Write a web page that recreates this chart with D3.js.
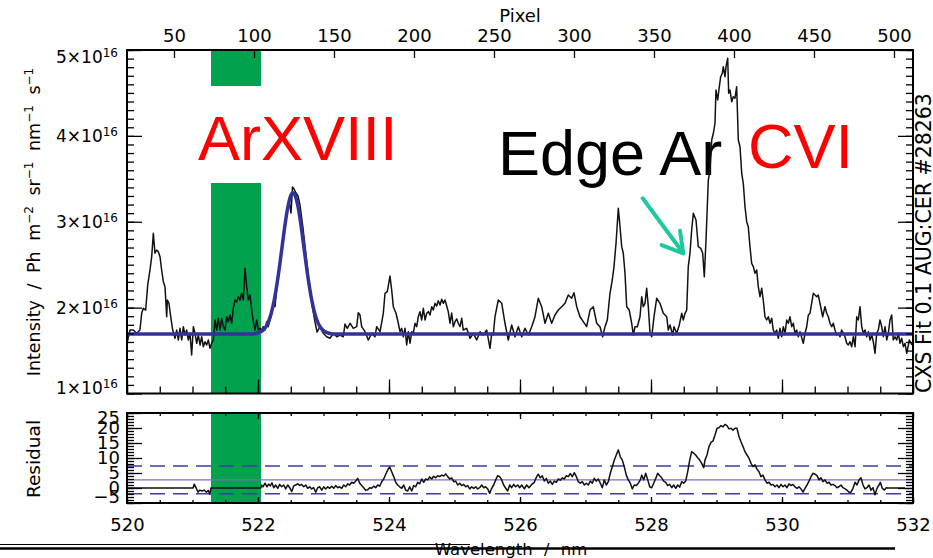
<!DOCTYPE html>
<html>
<head>
<meta charset="utf-8">
<script src="https://cdn.jsdelivr.net/npm/d3@7"></script>
<style>
  body { margin: 0; background: #fff; }
  svg { display: block; }
</style>
</head>
<body>
<svg id="chart" width="933" height="558"></svg>
<script>
// ---- Measured spectrum (wavelength in nm, intensity in units of 1e16 Ph m^-2 sr^-1 nm^-1 s^-1)
const wavelength = [
  520.000,520.046,520.096,520.148,520.198,520.224,520.249,520.285,520.316,520.351,
  520.377,520.402,520.427,520.453,520.478,520.504,520.529,520.555,520.580,520.606,
  520.616,520.641,520.667,520.698,520.733,520.758,520.784,520.809,520.835,520.860,
  520.885,520.911,520.936,520.962,520.987,521.013,521.038,521.064,521.089,521.115,
  521.140,521.165,521.191,521.216,521.242,521.267,521.293,521.318,521.344,521.369,
  521.394,521.420,521.446,521.471,521.496,521.522,521.547,521.573,521.598,521.623,
  521.649,521.675,521.700,521.725,521.751,521.776,521.802,521.827,521.852,521.878,
  521.904,521.929,521.954,521.980,522.005,522.031,522.056,522.081,522.107,522.133,
  522.157,522.183,522.209,522.234,522.260,522.286,522.336,522.386,522.438,522.473,
  522.504,522.527,522.550,522.580,522.611,522.641,522.687,522.733,522.779,522.824,
  522.870,522.901,522.947,522.997,523.049,523.099,523.150,523.202,523.252,523.302,
  523.328,523.363,523.405,523.455,523.507,523.531,523.557,523.583,523.634,523.684,
  523.736,523.786,523.812,523.863,523.913,523.939,523.974,524.015,524.041,524.066,
  524.107,524.142,524.168,524.194,524.218,524.244,524.270,524.295,524.321,524.347,
  524.371,524.397,524.423,524.447,524.473,524.499,524.524,524.550,524.576,524.600,
  524.626,524.652,524.676,524.702,524.728,524.753,524.779,524.805,524.829,524.855,
  524.881,524.905,524.931,524.957,524.982,525.008,525.034,525.058,525.084,525.110,
  525.134,525.186,525.237,525.287,525.339,525.389,525.440,525.492,525.542,525.568,
  525.592,525.618,525.669,525.721,525.771,525.821,525.873,525.924,525.974,526.026,
  526.076,526.127,526.179,526.229,526.279,526.331,526.382,526.432,526.484,526.534,
  526.585,526.637,526.687,526.737,526.789,526.824,526.866,526.916,526.966,527.018,
  527.069,527.119,527.171,527.221,527.262,527.298,527.333,527.374,527.409,527.435,
  527.466,527.501,527.527,527.553,527.577,527.603,527.629,527.668,527.705,527.730,
  527.756,527.791,527.832,527.858,527.882,527.908,527.934,527.959,527.985,528.011,
  528.046,528.087,528.137,528.188,528.240,528.264,528.290,528.331,528.351,528.392,
  528.432,528.469,528.493,528.519,528.545,528.569,528.595,528.621,528.646,528.687,
  528.722,528.759,528.789,528.814,528.840,528.875,528.901,528.927,528.952,528.977,
  528.992,529.018,529.043,529.064,529.089,529.104,529.130,529.145,529.171,529.186,
  529.206,529.232,529.256,529.282,529.308,529.333,529.359,529.385,529.409,529.435,
  529.461,529.485,529.511,529.537,529.562,529.588,529.614,529.638,529.664,529.690,
  529.714,529.740,529.766,529.791,529.817,529.843,529.867,529.893,529.919,529.944,
  529.969,529.995,530.020,530.046,530.072,530.096,530.122,530.148,530.173,530.198,
  530.224,530.249,530.275,530.325,530.351,530.377,530.402,530.427,530.478,530.504,
  530.530,530.554,530.580,530.621,530.656,530.682,530.707,530.733,530.759,530.783,
  530.809,530.835,530.860,530.885,530.911,530.936,530.962,530.988,531.012,531.038,
  531.064,531.089,531.115,531.141,531.165,531.191,531.217,531.241,531.267,531.293,
  531.318,531.344,531.370,531.394,531.420,531.446,531.470,531.496,531.522,531.547,
  531.573,531.599,531.623,531.649,531.675,531.699,531.725,531.751,531.776,531.802,
  531.827,531.853,531.878,531.904,531.944,531.985
];
const intensity = [
  1.585,1.739,1.739,1.701,1.739,1.934,1.992,1.972,2.264,2.438,
  2.593,2.866,2.633,2.671,2.651,2.593,2.438,2.302,2.244,1.894,
  2.089,2.050,1.894,1.739,1.643,1.739,1.623,1.759,1.623,1.778,
  1.681,1.739,1.623,1.701,1.448,1.778,1.701,1.585,1.681,1.565,
  1.661,1.545,1.603,1.565,1.623,1.526,1.585,1.623,1.856,1.739,
  1.876,1.739,1.876,1.778,1.739,1.894,1.836,1.914,1.818,1.992,
  2.089,2.069,2.127,2.089,2.167,2.089,2.458,2.244,2.089,2.147,
  1.972,1.836,1.739,1.856,1.739,1.759,1.739,1.778,1.739,1.836,
  1.778,1.856,1.934,2.050,2.011,2.229,2.531,2.811,3.090,3.253,
  3.102,3.405,3.381,3.335,3.300,3.195,2.927,2.613,2.298,2.031,
  1.833,1.716,1.778,1.701,1.661,1.643,1.701,1.661,1.681,1.661,
  1.809,1.759,1.818,1.759,1.778,1.941,1.914,1.778,1.720,1.623,
  1.701,1.661,1.778,1.720,1.934,2.167,2.185,2.368,2.205,2.011,
  1.934,1.818,1.720,1.759,1.661,1.759,1.565,1.720,1.585,1.720,
  1.701,1.818,1.778,1.894,1.953,1.856,1.992,1.856,1.934,1.953,
  1.914,2.011,1.972,2.050,2.019,2.081,2.031,2.097,2.050,2.089,
  2.019,1.953,1.818,1.937,1.778,1.836,1.868,1.818,1.778,1.876,
  1.739,1.759,1.643,1.701,1.623,1.720,1.681,1.739,1.526,1.701,
  1.681,1.894,2.089,2.050,1.818,1.623,1.798,1.661,1.778,1.661,
  1.759,1.681,1.778,1.894,2.109,2.011,1.818,1.934,1.818,1.914,
  1.972,2.011,2.050,2.147,2.109,2.174,2.011,1.894,1.836,1.778,
  1.972,2.011,1.818,1.778,1.661,1.778,1.856,2.167,2.322,2.477,
  2.749,3.157,2.942,2.710,2.633,2.400,2.011,1.972,1.818,1.681,
  1.778,1.778,1.894,2.127,2.011,2.050,2.225,2.011,1.701,1.661,
  1.894,2.109,2.050,1.934,1.894,1.739,1.798,1.681,1.778,1.701,
  1.798,1.934,1.856,1.934,1.972,2.477,2.633,2.904,3.098,3.020,
  2.710,2.691,2.633,2.360,2.788,3.486,3.603,3.952,4.030,4.147,
  4.534,4.418,4.573,4.689,4.729,4.806,4.689,4.806,4.903,4.496,
  4.534,4.398,4.456,4.438,4.573,3.952,3.874,3.564,3.448,3.175,
  3.001,2.942,2.710,2.516,2.477,2.400,2.438,2.244,2.127,2.225,
  2.089,1.894,1.856,1.894,1.818,1.876,1.739,1.701,1.739,1.643,
  1.759,1.661,1.778,1.701,1.856,1.818,1.894,1.778,1.818,1.701,
  1.739,1.661,1.720,1.585,1.701,1.778,1.914,1.934,2.167,2.147,
  2.127,2.147,2.050,1.894,2.011,1.934,1.894,1.818,1.778,1.818,
  1.739,1.681,1.701,1.661,1.739,1.701,1.661,1.585,1.565,1.603,
  1.545,1.661,1.545,1.894,1.856,2.011,1.778,1.701,1.739,1.661,
  1.720,1.623,1.681,1.603,1.468,1.701,1.739,1.856,1.778,1.661,
  1.778,1.623,1.701,1.856,1.914,1.623,1.661,1.623,1.701,1.585,
  1.643,1.545,1.585,1.468,1.623,1.565
];

// ---- Fitted ArXVIII line profile (same units)
const fitWavelength = [
  520.000,521.900,521.950,522.000,522.050,522.100,522.150,522.200,522.250,522.300,
  522.350,522.400,522.450,522.500,522.534,522.568,522.618,522.668,522.718,522.768,
  522.818,522.868,522.918,522.968,523.018,523.068,523.118,523.168,532.000
];
const fitIntensity = [
  1.693,1.694,1.697,1.705,1.721,1.755,1.819,1.929,2.097,2.327,
  2.605,2.896,3.148,3.305,3.338,3.305,3.148,2.896,2.605,2.327,
  2.097,1.929,1.819,1.755,1.721,1.705,1.697,1.694,1.693
];

// ---- Fit residual
const residualWavelength = [
  520.000,521.008,521.027,521.058,521.084,521.110,521.145,521.180,521.211,521.241,
  521.263,521.282,522.046,522.053,522.076,522.107,522.137,522.163,522.188,522.214,
  522.240,522.270,522.301,522.331,522.362,522.392,522.423,522.453,522.484,522.515,
  522.545,522.576,522.606,522.637,522.667,522.698,522.728,522.759,522.789,522.820,
  522.850,522.881,522.911,522.942,522.973,523.003,523.034,523.064,523.095,523.125,
  523.156,523.186,523.217,523.247,523.278,523.308,523.339,523.369,523.400,523.431,
  523.461,523.492,523.522,523.553,523.583,523.614,523.644,523.675,523.705,523.736,
  523.766,523.797,523.827,523.858,523.889,523.919,523.950,523.980,524.011,524.041,
  524.072,524.102,524.133,524.163,524.194,524.224,524.255,524.285,524.316,524.347,
  524.377,524.408,524.438,524.469,524.499,524.530,524.560,524.591,524.621,524.652,
  524.682,524.713,524.744,524.774,524.805,524.835,524.866,524.896,524.927,524.957,
  524.988,525.018,525.049,525.079,525.110,525.140,525.171,525.202,525.232,525.263,
  525.293,525.324,525.354,525.385,525.415,525.446,525.476,525.507,525.537,525.568,
  525.598,525.629,525.660,525.690,525.721,525.751,525.782,525.812,525.843,525.873,
  525.904,525.934,525.965,525.995,526.026,526.066,526.102,526.137,526.179,526.218,
  526.255,526.279,526.310,526.340,526.371,526.402,526.432,526.463,526.493,526.524,
  526.554,526.585,526.615,526.646,526.676,526.707,526.737,526.768,526.798,526.829,
  526.860,526.890,526.921,526.951,526.982,527.012,527.043,527.073,527.104,527.134,
  527.165,527.195,527.226,527.256,527.287,527.318,527.348,527.379,527.409,527.440,
  527.470,527.501,527.531,527.562,527.592,527.623,527.653,527.684,527.715,527.745,
  527.776,527.806,527.837,527.858,527.889,527.919,527.950,527.980,528.011,528.041,
  528.072,528.102,528.133,528.163,528.194,528.224,528.255,528.285,528.316,528.347,
  528.377,528.408,528.438,528.469,528.499,528.530,528.560,528.591,528.621,528.652,
  528.682,528.713,528.744,528.774,528.805,528.824,528.855,528.885,528.916,528.947,
  528.977,529.008,529.038,529.069,529.099,529.130,529.160,529.191,529.221,529.252,
  529.282,529.313,529.344,529.374,529.405,529.435,529.466,529.496,529.527,529.557,
  529.588,529.618,529.649,529.679,529.710,529.740,529.771,529.802,529.832,529.863,
  529.893,529.924,529.954,529.985,530.015,530.046,530.076,530.107,530.137,530.168,
  530.198,530.229,530.260,530.290,530.321,530.351,530.382,530.412,530.443,530.473,
  530.504,530.534,530.565,530.595,530.626,530.656,530.687,530.718,530.748,530.779,
  530.809,530.840,530.870,530.901,530.931,530.962,530.992,531.023,531.053,531.084,
  531.115,531.145,531.176,531.206,531.237,531.267,531.298,531.328,531.359,531.389,
  531.420,531.450,531.481,531.501,531.531,531.562,531.592,531.608,531.878
];
const residualValue = [
  0,0,1.3,-0.1,-1.4,-0.7,-1.0,-0.7,-1.4,-0.8,
  -2.1,0,0,1.0,0.4,1.6,0.4,1.3,0.7,1.7,
  0.1,1.0,-0.1,1.2,0.4,1.0,-0.3,1.0,0.1,-1.2,
  0.7,1.0,1.4,0.8,1.2,0.4,1.0,-0.1,0.4,-0.3,
  0.1,-1.4,0.1,0.4,-0.7,0.4,-0.3,0.4,-0.1,0.6,
  -0.1,0.8,0.1,0.4,-0.1,1.0,0.4,1.4,1.0,1.9,
  1.6,2.3,3.2,1.6,0.8,0.1,-0.8,-0.6,0.1,-0.1,
  0.6,0.1,1.0,0.6,2.1,3.0,4.6,6.0,7.0,5.4,
  3.8,1.9,1.0,0.4,-0.1,1.0,-0.7,-1.0,0.4,-1.0,
  0.8,0.4,1.9,1.4,3.0,1.9,3.0,2.7,3.7,3.0,
  3.9,3.4,4.1,3.8,4.3,4.0,4.7,3.8,3.0,3.4,
  2.1,2.3,1.0,1.6,0.8,1.2,0.4,0.8,-0.3,0.4,
  -0.1,0.4,-0.3,0.1,1.0,0.1,0.4,-0.3,-1.8,-0.1,
  1.0,2.7,4.1,3.8,2.7,1.0,-0.1,-1.0,1.0,0.1,
  1.2,0.4,1.0,0.1,1.0,-0.3,1.0,0.1,1.2,1.9,
  3.8,4.6,3.4,4.1,2.3,3.2,1.6,2.3,1.2,2.3,
  1.9,3.0,2.6,3.4,3.0,4.1,3.8,4.8,3.8,5.1,
  3.8,2.1,1.6,2.1,1.0,1.6,1.0,2.3,1.6,3.2,
  2.3,3.0,1.6,0.1,2.7,1.0,2.1,4.9,7.1,9.3,
  11.0,12.7,10.4,9.3,7.1,4.3,2.7,1.6,-0.3,1.0,
  0.8,1.6,2.7,4.3,2.7,4.9,2.7,0.4,0.1,1.6,
  3.2,4.9,4.1,3.4,2.3,1.9,0.8,1.2,0.1,1.0,
  -0.1,1.0,0.3,2.1,1.6,2.3,5.4,9.3,12.1,11.6,
  11.0,10.1,9.3,8.2,6.8,9.3,11.0,13.8,15.2,15.7,
  17.7,19.9,20.1,20.8,20.4,21.2,20.8,19.7,19.9,19.3,
  19.9,19.9,17.1,15.4,13.8,12.1,11.0,9.9,8.2,7.1,
  7.7,6.3,5.4,3.8,4.3,2.7,1.6,1.9,1.0,1.2,
  0.4,1.0,0.1,1.2,0.4,1.0,0.1,1.4,0.8,1.2,
  0.4,-0.1,0.4,-0.3,-1.4,-0.1,1.0,2.3,3.8,4.9,
  4.6,4.1,2.7,3.4,2.1,2.7,1.6,1.9,1.0,1.2,
  0.8,0.1,0.4,1.0,0.1,-0.3,-0.7,-1.4,-1.4,-0.1,
  1.9,1.0,2.7,3.4,1.0,-0.3,0.1,1.0,-0.7,0.1,
  -2.3,-0.1,1.0,1.9,-0.1,-0.7,0.1,0,0
];
const residualMean = 2.7;
const residualBand = [-1.9, 7.3];

// ---- Axis ticks and labels
const intensityTicks = [1, 2, 3, 4, 5];
const residualTicks = [-5, 0, 5, 10, 15, 20, 25];
const wavelengthTicks = [520, 522, 524, 526, 528, 530, 532];
const pixelTicks = [50, 100, 150, 200, 250, 300, 350, 400, 450, 500];
const excludedRange = [521.282, 522.046];   // green band: region left out of the fit

// ---- Layout
const W = 933, H = 558;
const L = 127, R = 913;
const mainTop = 50, mainBottom = 393.5;
const resTop = 413, resBottom = 503;
const AXIS_FONT = "'DejaVu Sans', sans-serif";
const NOTE_FONT = "'Liberation Sans', Arial, sans-serif";

const svg = d3.select('#chart');

const x = d3.scaleLinear().domain([520, 532]).range([L, R]);
const xPixel = d3.scaleLinear().domain([20.625, 511.875]).range([L, R]);
const yMain = d3.scaleLinear().domain([1, 5]).range([mainBottom, mainTop]);
const yRes = d3.scaleLinear().domain([-5, 25]).range([resBottom, resTop]);

function clean(g) {
  g.select('.domain').remove();
  g.selectAll('.tick line').attr('stroke', '#000').attr('stroke-width', 1.3);
  g.selectAll('.tick text')
    .attr('font-family', AXIS_FONT).attr('font-size', 18).attr('fill', '#000');
}

svg.append('defs').append('clipPath').attr('id', 'mainClip')
  .append('rect').attr('x', L).attr('y', mainTop).attr('width', R - L).attr('height', mainBottom - mainTop);
svg.select('defs').append('clipPath').attr('id', 'resClip')
  .append('rect').attr('x', L).attr('y', resTop).attr('width', R - L).attr('height', resBottom - resTop);

// ---- Excluded wavelength band (both panels)
const bandX = x(excludedRange[0]), bandW = x(excludedRange[1]) - x(excludedRange[0]);
svg.append('rect').attr('x', bandX).attr('y', mainTop).attr('width', bandW)
  .attr('height', mainBottom - mainTop).attr('fill', '#00a24e');
svg.append('rect').attr('x', bandX).attr('y', resTop).attr('width', bandW)
  .attr('height', resBottom - resTop).attr('fill', '#00a24e');

// ---- Annotations
const notes = svg.append('g').attr('font-family', NOTE_FONT).attr('font-size', 63);
// white label box for the ArXVIII line
notes.append('rect')
  .attr('x', bandX - 2).attr('y', yMain(4.581))
  .attr('width', bandW + 4).attr('height', yMain(3.451) - yMain(4.581))
  .attr('fill', '#fff');
notes.append('text').attr('x', x(521.084)).attr('y', yMain(3.719)).attr('fill', '#ff0000').text('ArXVIII');
notes.append('text').attr('x', x(525.664)).attr('y', yMain(3.544)).attr('fill', '#000').text('Edge Ar');
notes.append('text').attr('x', x(529.481)).attr('y', yMain(3.626)).attr('fill', '#ff0000').text('CVI');

// arrow pointing to the edge-argon shoulder
const arrowColor = '#1fc9a0';
svg.append('line')
  .attr('x1', x(527.873)).attr('y1', yMain(3.273))
  .attr('x2', x(528.493)).attr('y2', yMain(2.633))
  .attr('stroke', arrowColor).attr('stroke-width', 4).attr('stroke-linecap', 'round');
svg.append('path')
  .attr('d', d3.line()([
    [x(528.443), yMain(2.896)],
    [x(528.493), yMain(2.633)],
    [x(528.163), yMain(2.729)]
  ]))
  .attr('fill', 'none').attr('stroke', arrowColor).attr('stroke-width', 4)
  .attr('stroke-linecap', 'round').attr('stroke-linejoin', 'round');

// ---- Spectrum and fit
const spectrum = wavelength.map((w, i) => [w, intensity[i]]);
const fit = fitWavelength.map((w, i) => [w, fitIntensity[i]]);

svg.append('path')
  .datum(spectrum)
  .attr('clip-path', 'url(#mainClip)')
  .attr('d', d3.line().x(d => x(d[0])).y(d => yMain(d[1])))
  .attr('fill', 'none').attr('stroke', '#111').attr('stroke-width', 1.5)
  .attr('stroke-linejoin', 'round');

svg.append('path')
  .datum(fit)
  .attr('clip-path', 'url(#mainClip)')
  .attr('d', d3.line().x(d => x(d[0])).y(d => yMain(d[1])).curve(d3.curveMonotoneX))
  .attr('fill', 'none').attr('stroke', '#32329a').attr('stroke-width', 3.5);

// ---- Residual panel
const resG = svg.append('g').attr('clip-path', 'url(#resClip)');
residualBand.forEach(v => {
  resG.append('line').attr('x1', L).attr('x2', R).attr('y1', yRes(v)).attr('y2', yRes(v))
    .attr('stroke', '#3c3ca5').attr('stroke-width', 1.5).attr('stroke-dasharray', '15,8');
});
resG.append('line').attr('x1', L).attr('x2', R)
  .attr('y1', yRes(residualMean)).attr('y2', yRes(residualMean))
  .attr('stroke', '#7272c4').attr('stroke-width', 1.2);
const residual = residualWavelength.map((w, i) => [w, residualValue[i]]);
resG.append('path')
  .datum(residual)
  .attr('d', d3.line().x(d => x(d[0])).y(d => yRes(d[1])))
  .attr('fill', 'none').attr('stroke', '#111').attr('stroke-width', 1.5)
  .attr('stroke-linejoin', 'round');

// ---- Axes: main panel
svg.append('g').attr('transform', `translate(${L},0)`)
  .call(d3.axisLeft(yMain).tickValues(d3.range(10, 51).map(v => v / 10)).tickSize(-7).tickFormat(''))
  .call(clean);
const leftMajor = svg.append('g').attr('transform', `translate(${L},0)`)
  .call(d3.axisLeft(yMain).tickValues(intensityTicks).tickSize(-15).tickPadding(9).tickFormat(''))
  .call(clean);
leftMajor.selectAll('.tick text').each(function (d) {
  const t = d3.select(this);
  const shift = Math.min(Math.max(yMain(d), 57), 388) - yMain(d);
  t.attr('y', shift).attr('font-size', 17);
  t.append('tspan').text(`${d}×10`);
  t.append('tspan').attr('dy', '-0.5em').attr('font-size', 12).text('16');
});
svg.append('g').attr('transform', `translate(${R},0)`)
  .call(d3.axisRight(yMain).tickValues(d3.range(10, 51).map(v => v / 10)).tickSize(-7).tickFormat(''))
  .call(clean);
svg.append('g').attr('transform', `translate(${R},0)`)
  .call(d3.axisRight(yMain).tickValues(intensityTicks).tickSize(-15).tickFormat(''))
  .call(clean);

svg.append('g').attr('transform', `translate(0,${mainBottom})`)
  .call(d3.axisBottom(x).tickValues(d3.range(1040, 1065).map(v => v / 2)).tickSize(-7).tickFormat(''))
  .call(clean);
svg.append('g').attr('transform', `translate(0,${mainBottom})`)
  .call(d3.axisBottom(x).tickValues(wavelengthTicks).tickSize(-14).tickFormat(''))
  .call(clean);

svg.append('g').attr('transform', `translate(0,${mainTop})`)
  .call(d3.axisTop(xPixel).tickValues(pixelTicks).tickSize(-8).tickPadding(8))
  .call(clean);

// ---- Axes: residual panel
svg.append('g').attr('transform', `translate(${L},0)`)
  .call(d3.axisLeft(yRes).tickValues(d3.range(-5, 26)).tickSize(-7).tickFormat(''))
  .call(clean);
const resLeft = svg.append('g').attr('transform', `translate(${L},0)`)
  .call(d3.axisLeft(yRes).tickValues(residualTicks).tickSize(-15).tickPadding(7))
  .call(clean);
resLeft.selectAll('.tick text').attr('y', d => Math.min(Math.max(yRes(d), 418), 497) - yRes(d));
svg.append('g').attr('transform', `translate(${R},0)`)
  .call(d3.axisRight(yRes).tickValues(d3.range(-5, 26)).tickSize(-7).tickFormat(''))
  .call(clean);
svg.append('g').attr('transform', `translate(${R},0)`)
  .call(d3.axisRight(yRes).tickValues(residualTicks).tickSize(-15).tickFormat(''))
  .call(clean);

svg.append('g').attr('transform', `translate(0,${resBottom})`)
  .call(d3.axisBottom(x).tickValues(d3.range(1040, 1065).map(v => v / 2)).tickSize(-3).tickFormat(''))
  .call(clean);
svg.append('g').attr('transform', `translate(0,${resBottom})`)
  .call(d3.axisBottom(x).tickValues(wavelengthTicks).tickSize(-6).tickPadding(15))
  .call(clean);
svg.append('g').attr('transform', `translate(0,${resTop})`)
  .call(d3.axisTop(x).tickValues(d3.range(1040, 1065).map(v => v / 2)).tickSize(-3).tickFormat(''))
  .call(clean);
svg.append('g').attr('transform', `translate(0,${resTop})`)
  .call(d3.axisTop(x).tickValues(wavelengthTicks).tickSize(-6).tickFormat(''))
  .call(clean);

// ---- Panel frames
[[mainTop, mainBottom], [resTop, resBottom]].forEach(([t, b]) => {
  svg.append('rect').attr('x', L).attr('y', t).attr('width', R - L).attr('height', b - t)
    .attr('fill', 'none').attr('stroke', '#000').attr('stroke-width', 2);
});

// ---- Axis titles
svg.append('text').attr('x', 520).attr('y', 22).attr('text-anchor', 'middle')
  .attr('font-family', AXIS_FONT).attr('font-size', 18).text('Pixel');

const yTitle = svg.append('text')
  .attr('transform', 'translate(40,222) rotate(-90)')
  .attr('text-anchor', 'middle')
  .attr('font-family', AXIS_FONT).attr('font-size', 17.5).attr('word-spacing', 5);
[['Intensity / Ph m', false], ['−2', true], [' sr', false], ['−1', true],
 [' nm', false], ['−1', true], [' s', false], ['−1', true]].forEach(([s, sup], i, arr) => {
  const prevSup = i > 0 && arr[i - 1][1];
  const ts = yTitle.append('tspan').text(s);
  if (sup) ts.attr('dy', -7).attr('font-size', 12);
  else if (prevSup) ts.attr('dy', 7);
});

svg.append('text')
  .attr('transform', `translate(40,${(resTop + resBottom) / 2 + 1}) rotate(-90)`)
  .attr('text-anchor', 'middle')
  .attr('font-family', AXIS_FONT).attr('font-size', 18.5).text('Residual');

svg.append('text')
  .attr('transform', 'translate(930.5,243) rotate(-90)')
  .attr('text-anchor', 'middle')
  .attr('font-family', AXIS_FONT).attr('font-size', 20.5).text('CXS Fit 0.1 AUG:CER #28263');

svg.append('text').attr('x', 511).attr('y', 555).attr('text-anchor', 'middle')
  .attr('font-family', AXIS_FONT).attr('font-size', 16.5).attr('word-spacing', 6)
  .text('Wavelength / nm');

// rules under the plot
svg.append('line').attr('x1', 0).attr('x2', 470).attr('y1', 544.5).attr('y2', 544.5)
  .attr('stroke', '#000').attr('stroke-width', 1.2);
svg.append('line').attr('x1', 0).attr('x2', 895).attr('y1', 548.5).attr('y2', 548.5)
  .attr('stroke', '#000').attr('stroke-width', 2.5);
</script>
</body>
</html>
